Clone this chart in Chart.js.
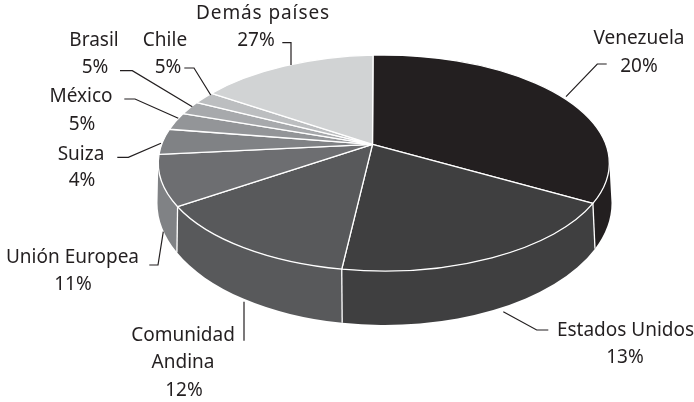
<!DOCTYPE html>
<html><head><meta charset="utf-8">
<style>html,body{margin:0;padding:0;background:#fff}canvas{display:block}</style>
<script src="https://cdn.jsdelivr.net/npm/chart.js@4"></script>
</head><body><canvas id="c" width="694" height="402"></canvas>
<script>
// Categories in drawing order, clockwise from the top
const categories = ['Venezuela','Estados Unidos','Comunidad Andina','Unión Europea','Suiza','México','Brasil','Chile','Demás países'];
// Percentages printed in the labels
const printedPercent = [20,13,12,11,4,5,5,5,27];
// Share of the disc each wedge occupies in the picture
const drawnShare = [31.9,21.9,15.4,7.9,3.8,2.5,1.9,1.7,13.1];
const topColors = ['#231f20','#3f3f40','#58595b','#6d6e71','#808285','#939598','#a7a9ac','#bcbec0','#d1d3d4'];
const sideColors = ['#231f20','#3f3f40','#58595b','#808285','#808285','#939598','#a7a9ac','#bcbec0','#d1d3d4'];

const FONT = '19px "Noto Sans", sans-serif';
const INK = '#231f20';
const apex = {x:372.5,y:144.3};
const topE = {x:383.8,y:163,rx:225.5,ry:108};
const botE = {x:384.5,y:203,rx:227,ry:122};
// [text, centre x, middle y, letter spacing] per category
const labelLayout = [
 [['Venezuela',639,38.5],['20%',639,67]],
 [['Estados Unidos',625.5,331],['13%',625,358]],
 [['Comunidad',183,336],['Andina',183,363],['12%',184,391]],
 [['Unión Europea',72.5,258],['11%',73,285]],
 [['Suiza',81,155],['4%',82,181]],
 [['México',81,97],['5%',82,125]],
 [['Brasil',94,41],['5%',95,68]],
 [['Chile',165,41],['5%',168,68]],
 [['Demás países',263,14,'0.9px'],['27%',256,41]]
];
const leaders = [
 [[566,96.7],[597.3,64],[606.7,64]],
 [[503.3,311.7],[536.7,330],[548.3,330]],
 [[244,301.7],[244,340.7]],
 [[163.3,231.7],[158,265],[149.3,265]],
 [[161,143.3],[128.3,157.3],[117.3,157.3]],
 [[178.3,118.3],[135,99],[124.3,99]],
 [[192.3,106.7],[132.3,70.7],[120,70.7]],
 [[210.7,95],[194,68],[184.3,68]],
 [[291,65],[291,42.7],[282.3,42.7]]
];

const disc3d = {
  id:'disc3d',
  beforeDatasetsDraw(chart){
    const ctx = chart.ctx, arcs = chart.getDatasetMeta(0).data;
    ctx.save();
    // side wall: only the front half of the disc is visible
    arcs.forEach((el,i)=>{
      const s = el.startAngle, e = el.endAngle;
      const a0 = Math.max(s,0), a1 = Math.min(e,Math.PI);
      if(a1<=a0) return;
      ctx.beginPath();
      ctx.ellipse(topE.x,topE.y,topE.rx,topE.ry,0,a0,a1);
      ctx.ellipse(botE.x,botE.y,botE.rx,botE.ry,0,a1,a0,true);
      ctx.closePath();
      ctx.fillStyle = sideColors[i];
      ctx.fill();
    });
    ctx.strokeStyle='#fff'; ctx.lineWidth=1.3;
    arcs.forEach(el=>{
      const a = el.endAngle;
      if(a>0 && a<Math.PI){
        ctx.beginPath();
        ctx.moveTo(topE.x+topE.rx*Math.cos(a),topE.y+topE.ry*Math.sin(a));
        ctx.lineTo(botE.x+botE.rx*Math.cos(a),botE.y+botE.ry*Math.sin(a));
        ctx.stroke();
      }
    });
    // top face
    arcs.forEach((el,i)=>{
      ctx.beginPath();
      ctx.moveTo(apex.x,apex.y);
      ctx.ellipse(topE.x,topE.y,topE.rx,topE.ry,0,el.startAngle,el.endAngle);
      ctx.closePath();
      ctx.fillStyle = topColors[i];
      ctx.fill();
      ctx.lineJoin='round';
      ctx.stroke();
    });
    ctx.restore();
    return false;
  },
  afterDraw(chart){
    const ctx = chart.ctx;
    ctx.save();
    ctx.strokeStyle=INK; ctx.lineWidth=1.2;
    leaders.forEach(pts=>{
      ctx.beginPath();
      pts.forEach((p,k)=>k?ctx.lineTo(p[0],p[1]):ctx.moveTo(p[0],p[1]));
      ctx.stroke();
    });
    ctx.fillStyle=INK; ctx.font=FONT; ctx.textAlign='center'; ctx.textBaseline='middle';
    labelLayout.forEach(ls=>ls.forEach(l=>{
      ctx.letterSpacing = l[3] || '0px';
      ctx.fillText(l[0],l[1],l[2]);
    }));
    ctx.restore();
  }
};

new Chart(document.getElementById('c'),{
  type:'pie',
  data:{labels:categories,datasets:[{data:drawnShare,backgroundColor:topColors,borderColor:'#fff',borderWidth:1.3}]},
  options:{responsive:false,animation:false,rotation:-2.74,
    plugins:{legend:{display:false},tooltip:{enabled:false},title:{display:false}}},
  plugins:[disc3d]
});
</script></body></html>
